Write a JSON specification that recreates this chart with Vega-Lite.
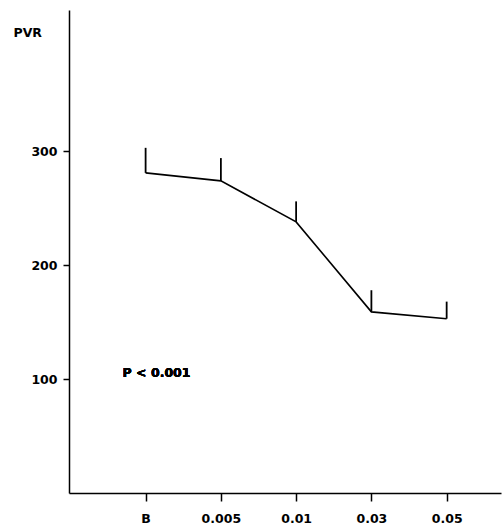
{
  "$schema": "https://vega.github.io/schema/vega-lite/v6.json",
  "width": 432,
  "height": 483,
  "autosize": "none",
  "padding": {"left": 69, "top": 10, "right": 1, "bottom": 37},
  "background": "white",
  "config": {
    "view": {"stroke": null},
    "font": "DejaVu Sans",
    "axis": {"grid": false, "domainColor": "black", "tickColor": "black", "labelColor": "black", "labelFont": "DejaVu Sans", "labelFontWeight": "bold", "labelFontSize": 12.5, "domainWidth": 1.5, "tickWidth": 1.5}
  },
  "data": {
    "values": [
      {"dose": "B", "pvr": 281, "upper": 303},
      {"dose": "0.005", "pvr": 274, "upper": 294},
      {"dose": "0.01", "pvr": 238, "upper": 256},
      {"dose": "0.03", "pvr": 159, "upper": 178},
      {"dose": "0.05", "pvr": 153, "upper": 168}
    ]
  },
  "encoding": {
    "x": {
      "field": "dose",
      "type": "ordinal",
      "sort": null,
      "scale": {"type": "point", "padding": 0.87, "align": 0.585},
      "axis": {"title": null, "labelAngle": 0, "tickSize": 8, "labelPadding": 11}
    }
  },
  "layer": [
    {
      "mark": {"type": "line", "color": "black", "strokeWidth": 1.6},
      "encoding": {
        "y": {
          "field": "pvr",
          "type": "quantitative",
          "scale": {"domain": [0, 424], "nice": false},
          "axis": {
            "values": [100, 200, 300],
            "tickSize": 6,
            "labelPadding": 6,
            "title": "PVR",
            "titleAngle": 0,
            "titleX": -56,
            "titleY": 22,
            "titleAlign": "left",
            "titleBaseline": "middle",
            "titleFont": "DejaVu Sans",
            "titleFontSize": 12.5,
            "titleFontWeight": "bold",
            "titleColor": "black"
          }
        }
      }
    },
    {
      "mark": {"type": "rule", "color": "black", "strokeWidth": 1.8},
      "encoding": {
        "y": {"field": "pvr", "type": "quantitative"},
        "y2": {"field": "upper"}
      }
    },
    {
      "mark": {"type": "text", "text": "P < 0.001", "align": "left", "baseline": "middle", "dx": -23, "font": "DejaVu Sans", "fontSize": 12.5, "fontWeight": "bold", "color": "black"},
      "encoding": {
        "x": {"datum": "B"},
        "y": {"datum": 105}
      }
    }
  ]
}
